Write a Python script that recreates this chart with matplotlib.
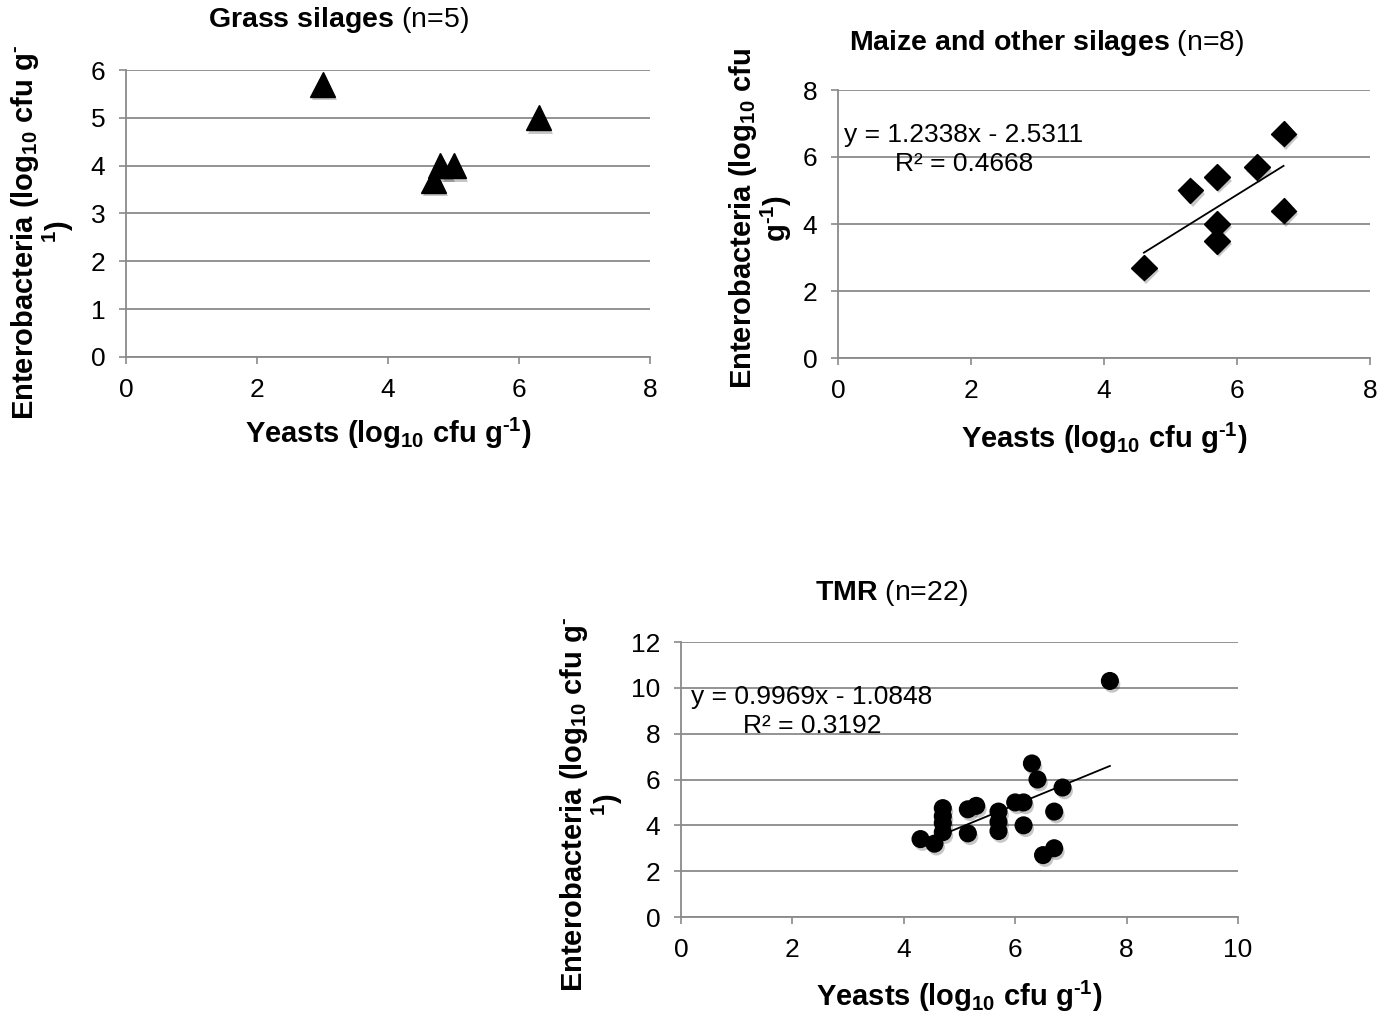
import matplotlib
matplotlib.use("Agg")
import matplotlib.pyplot as plt
import matplotlib.patheffects as pe
import numpy as np

plt.rcParams['font.family'] = ['Liberation Sans', 'DejaVu Sans']
plt.rcParams['mathtext.fontset'] = 'custom'
plt.rcParams['mathtext.rm'] = 'Liberation Sans'
plt.rcParams['mathtext.bf'] = 'Liberation Sans:bold'
plt.rcParams['mathtext.it'] = 'Liberation Sans:italic'

# ---------------- data ----------------
grass_x = [3.0, 6.3, 4.8, 5.0, 4.7]
grass_y = [5.7, 5.0, 4.0, 4.0, 3.7]

maize_x = [4.6, 5.3, 5.7, 5.7, 5.7, 6.3, 6.7, 6.7]
maize_y = [2.7, 5.0, 5.4, 4.0, 3.5, 5.7, 6.7, 4.4]
maize_fit = (1.2338, -2.5311)
maize_eq = "y = 1.2338x - 2.5311\nR² = 0.4668"

tmr_x = [7.7, 6.3, 6.4, 6.85, 6.0, 6.15, 6.7, 6.15, 6.5, 6.7, 5.7,
         5.7, 5.7, 5.15, 5.3, 5.15, 4.3, 4.55, 4.7, 4.7, 4.7, 4.7]
tmr_y = [10.3, 6.7, 6.0, 5.65, 5.0, 5.0, 4.6, 4.0, 2.7, 3.0, 4.6,
         4.15, 3.75, 4.7, 4.85, 3.65, 3.4, 3.2, 4.75, 4.4, 4.1, 3.7]
tmr_fit = (0.9969, -1.0848)
tmr_eq = "y = 0.9969x - 1.0848\nR² = 0.3192"

grass_title = r"$\mathbf{Grass\ silages}$ (n=5)"
maize_title = r"$\mathbf{Maize\ and\ other\ silages}$ (n=8)"
tmr_title = r"$\mathbf{TMR}$ (n=22)"

HY = "\u2010"
xlabel = r"Yeasts (log$_{\mathbf{10}}$ cfu g$^{\mathbf{" + HY + r"1}}$)"
ylabel_a = r"Enterobacteria (log$_{\mathbf{10}}$ cfu g$^{\mathbf{" + HY + r"}}$" + "\n" + r"$^{\mathbf{1}}$)"
ylabel_b = r"Enterobacteria (log$_{\mathbf{10}}$ cfu" + "\n" + r"g$^{\mathbf{" + HY + r"1}}$)"

GRID = '#8a8a8a'
TICK_FS = 19
LAB_FS = 21
TITLE_FS = 20.5
EQ_FS = 19
YL_SPACING = 1.0

fig = plt.figure(figsize=(13.8, 10.13), dpi=100)

shadow = [pe.SimplePatchShadow(offset=(1.5, -2.5), shadow_rgbFace='k', alpha=0.22), pe.Normal()]


def style(ax, xmax, xstep, ymax, ystep):
    ax.set_xlim(0, xmax)
    ax.set_ylim(0, ymax)
    ax.set_xticks(np.arange(0, xmax + 0.01, xstep))
    ax.set_yticks(np.arange(0, ymax + 0.01, ystep))
    for s in ['top', 'right']:
        ax.spines[s].set_visible(False)
    for s in ['left', 'bottom']:
        ax.spines[s].set_color(GRID)
        ax.spines[s].set_linewidth(1.3)
    ax.yaxis.grid(True, color=GRID, linewidth=1.3)
    ax.set_axisbelow(True)
    ax.tick_params(axis='both', direction='out', length=5, width=1.2, color=GRID,
                   labelsize=TICK_FS, labelcolor='black', pad=10)


def title(x, y, txt):
    fig.text(x, y, txt, ha='center', va='center', fontsize=TITLE_FS)


# Grass
ax1 = fig.add_axes([126/1380, 1-357/1013, 524/1380, 287/1013])
style(ax1, 8, 2, 6, 1)
ax1.plot(grass_x, grass_y, linestyle='none', marker='^', markersize=18,
         color='black', path_effects=shadow, clip_on=False)
ax1.set_xlabel(xlabel, fontsize=LAB_FS, fontweight='bold')
ax1.xaxis.set_label_coords(0.5, -0.205)
ax1.set_ylabel(ylabel_a, fontsize=LAB_FS, fontweight='bold', linespacing=YL_SPACING)
ax1.yaxis.set_label_coords(-0.095, 0.435)
title(338/1380, 1-20/1013, grass_title)

# Maize
ax2 = fig.add_axes([838/1380, 1-358/1013, 532/1380, 268/1013])
style(ax2, 8, 2, 8, 2)
ax2.plot(maize_x, maize_y, linestyle='none', marker='D', markersize=13,
         color='black', path_effects=shadow)
xs = np.array([min(maize_x), max(maize_x)])
ax2.plot(xs, maize_fit[0]*xs + maize_fit[1], color='black', linewidth=1.3)
ax2.text(1.895, 6.22, maize_eq, ha='center', va='center', fontsize=EQ_FS,
         multialignment='center', linespacing=1.25)
ax2.set_xlabel(xlabel, fontsize=LAB_FS, fontweight='bold')
ax2.xaxis.set_label_coords(0.5, -0.235)
ax2.set_ylabel(ylabel_b, fontsize=LAB_FS, fontweight='bold', linespacing=YL_SPACING)
ax2.yaxis.set_label_coords(-0.082, 0.52)
title(1047/1380, 1-43/1013, maize_title)

# TMR
ax3 = fig.add_axes([681/1380, 1-917/1013, 557/1380, 275/1013])
style(ax3, 10, 2, 12, 2)
ax3.plot(tmr_x, tmr_y, linestyle='none', marker='o', markersize=12,
         color='black', path_effects=shadow)
xs = np.array([min(tmr_x), max(tmr_x)])
ax3.plot(xs, tmr_fit[0]*xs + tmr_fit[1], color='black', linewidth=1.3)
ax3.text(2.35, 8.98, tmr_eq, ha='center', va='center', fontsize=EQ_FS,
         multialignment='center', linespacing=1.25)
ax3.set_xlabel(xlabel, fontsize=LAB_FS, fontweight='bold')
ax3.xaxis.set_label_coords(0.5, -0.225)
ax3.set_ylabel(ylabel_a, fontsize=LAB_FS, fontweight='bold', linespacing=YL_SPACING)
ax3.yaxis.set_label_coords(-0.10, 0.41)
title(892/1380, 1-593/1013, tmr_title)

fig.savefig('out.png', dpi=100)
